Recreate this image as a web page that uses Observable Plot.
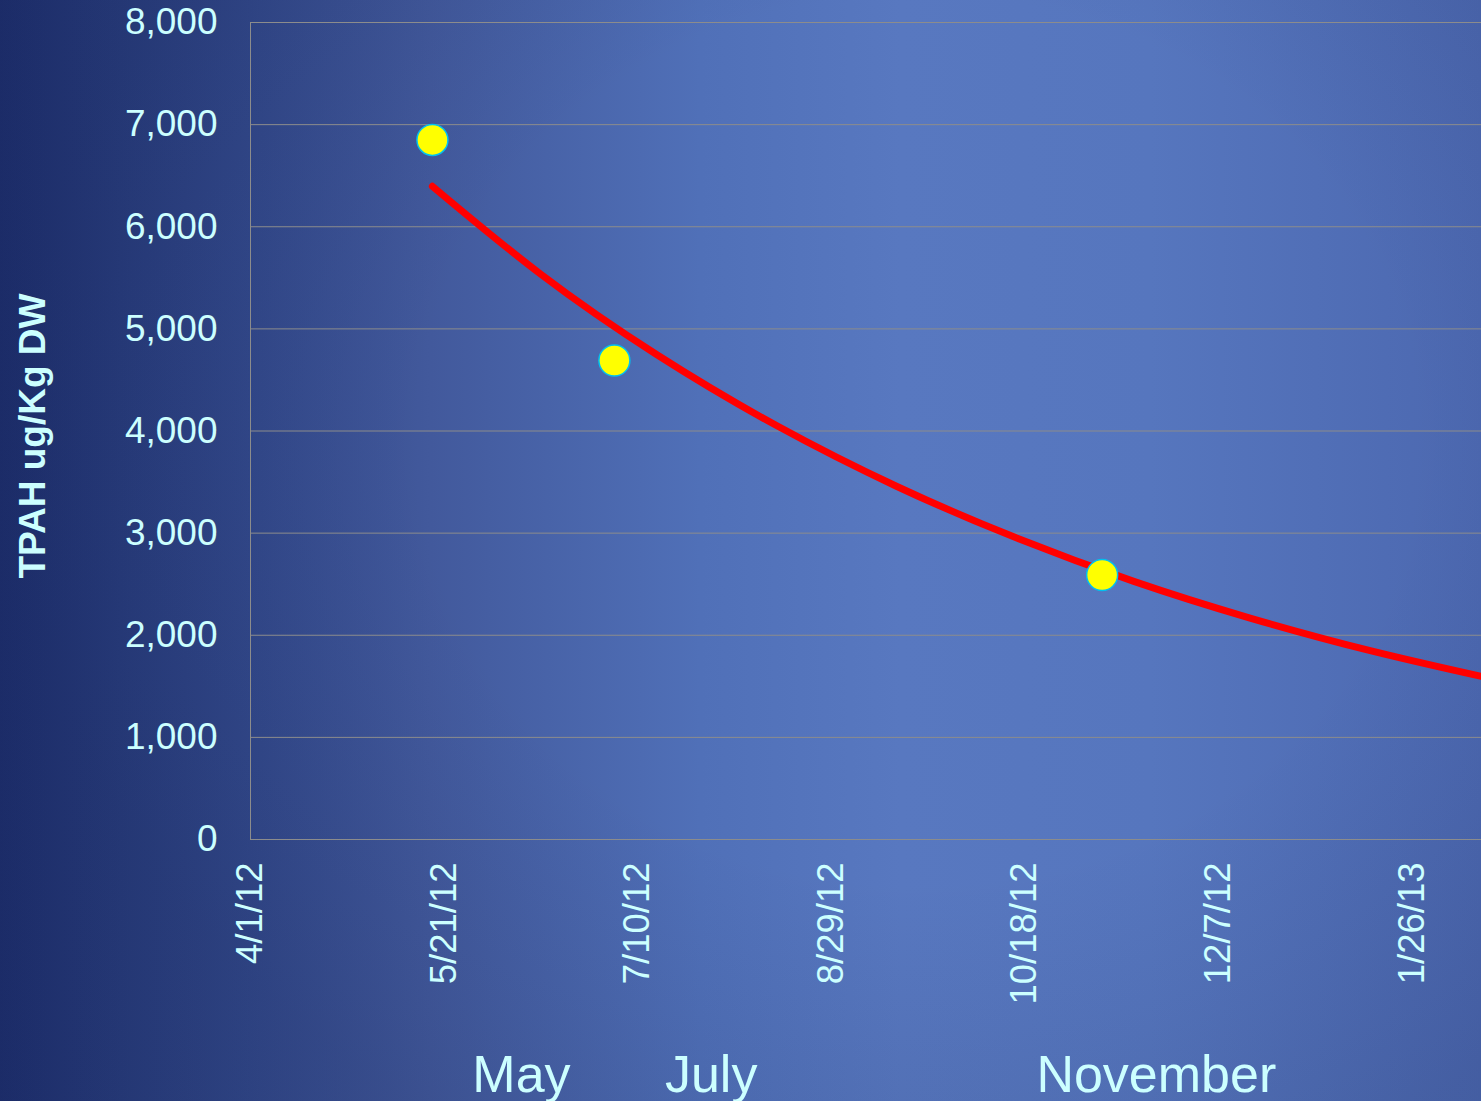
<!DOCTYPE html>
<html>
<head>
<meta charset="utf-8">
<script src="https://cdn.jsdelivr.net/npm/d3@7"></script>
<script src="https://cdn.jsdelivr.net/npm/@observablehq/plot@0.6"></script>
<style>
html, body { margin: 0; padding: 0; }
body {
  width: 1481px; height: 1101px; overflow: hidden;
  background:
    radial-gradient(ellipse 900px 800px at 62% 40%, rgba(0,0,0,0) 55%, rgba(10,20,60,0.12) 100%),
    linear-gradient(90deg, #1e2f6e 0px, #283c7c 120px, #32488a 250px, #42599c 430px, #5070b8 700px, #5878c0 900px, #5676be 1150px, #4c68b0 1481px);
}
#chart { position: relative; }
</style>
</head>
<body>
<div id="chart"></div>
<script>
// Measured samples (yellow dots)
const sampleDates = ["2012-05-18", "2012-07-04", "2012-11-07"];
const sampleValues = [6850, 4690, 2590];

// Trend line (red)
const trendDates = ["2012-05-18", "2012-06-15", "2012-07-15", "2012-08-15", "2012-09-15", "2012-10-15", "2012-11-15", "2012-12-15", "2013-01-15", "2013-02-13"];
const trendValues = [6396, 5535, 4747, 4051, 3457, 2966, 2530, 2171, 1852, 1597];

// Axes
const xTickDates = ["2012-04-01", "2012-05-21", "2012-07-10", "2012-08-29", "2012-10-18", "2012-12-07", "2013-01-26"];
const xDomain = ["2012-04-01", "2013-02-13"];
const yTicks = [0, 1000, 2000, 3000, 4000, 5000, 6000, 7000, 8000];
const yLabel = "TPAH ug/Kg DW";

// Month annotations under the axis
const monthLabels = ["May", "July", "November"];
const monthLabelDates = ["2012-06-10", "2012-07-29", "2012-11-21"];

const parse = s => new Date(s + "T00:00:00Z");
const samples = sampleDates.map((d, i) => ({date: parse(d), value: sampleValues[i]}));
const trend = trendDates.map((d, i) => ({date: parse(d), value: trendValues[i]}));
const months = monthLabels.map((m, i) => ({date: parse(monthLabelDates[i]), text: m}));
const xTicks = xTickDates.map(parse);

const gridColor = "#8c8c8c";
const textColor = "#ccffff";

const plot = Plot.plot({
  width: 1481,
  height: 1101,
  marginLeft: 250,
  marginRight: 0,
  marginTop: 22,
  marginBottom: 262,
  style: {
    background: "transparent",
    color: textColor,
    fontFamily: "'Liberation Sans', Arial, sans-serif",
    fontSize: "36px",
    overflow: "visible"
  },
  x: {type: "utc", domain: xDomain.map(parse)},
  y: {domain: [0, 8000]},
  marks: [
    Plot.gridY(yTicks, {stroke: gridColor, strokeOpacity: 1, strokeWidth: 1}),
    Plot.ruleY([0], {stroke: gridColor, strokeWidth: 1}),
    Plot.ruleX([parse(xDomain[0])], {stroke: gridColor, strokeWidth: 1}),
    Plot.axisY(yTicks, {tickSize: 0, tickPadding: 33, tickFormat: d3.format(","), label: null, fontSize: 37, fill: textColor}),
    Plot.axisX(xTicks, {tickSize: 0, tickPadding: 23, tickRotate: -90, tickFormat: d3.utcFormat("%-m/%-d/%y"), label: null, fontSize: 36.5, fill: textColor}),
    Plot.line(trend, {x: "date", y: "value", stroke: "#ff0000", strokeWidth: 7, curve: "natural", strokeLinecap: "round"}),
    Plot.dot(samples, {x: "date", y: "value", r: 15.5, fill: "#ffff00", stroke: "#00c0f0", strokeWidth: 1.5}),
    Plot.text([yLabel], {frameAnchor: "left", textAnchor: "middle", rotate: -90, dx: -217, dy: 5, fontWeight: "bold", fontSize: 37, fill: textColor}),
    Plot.text(months, {x: "date", text: "text", frameAnchor: "bottom", dy: 252, fontSize: 52, fill: textColor})
  ]
});

document.getElementById("chart").appendChild(plot);
</script>
</body>
</html>
